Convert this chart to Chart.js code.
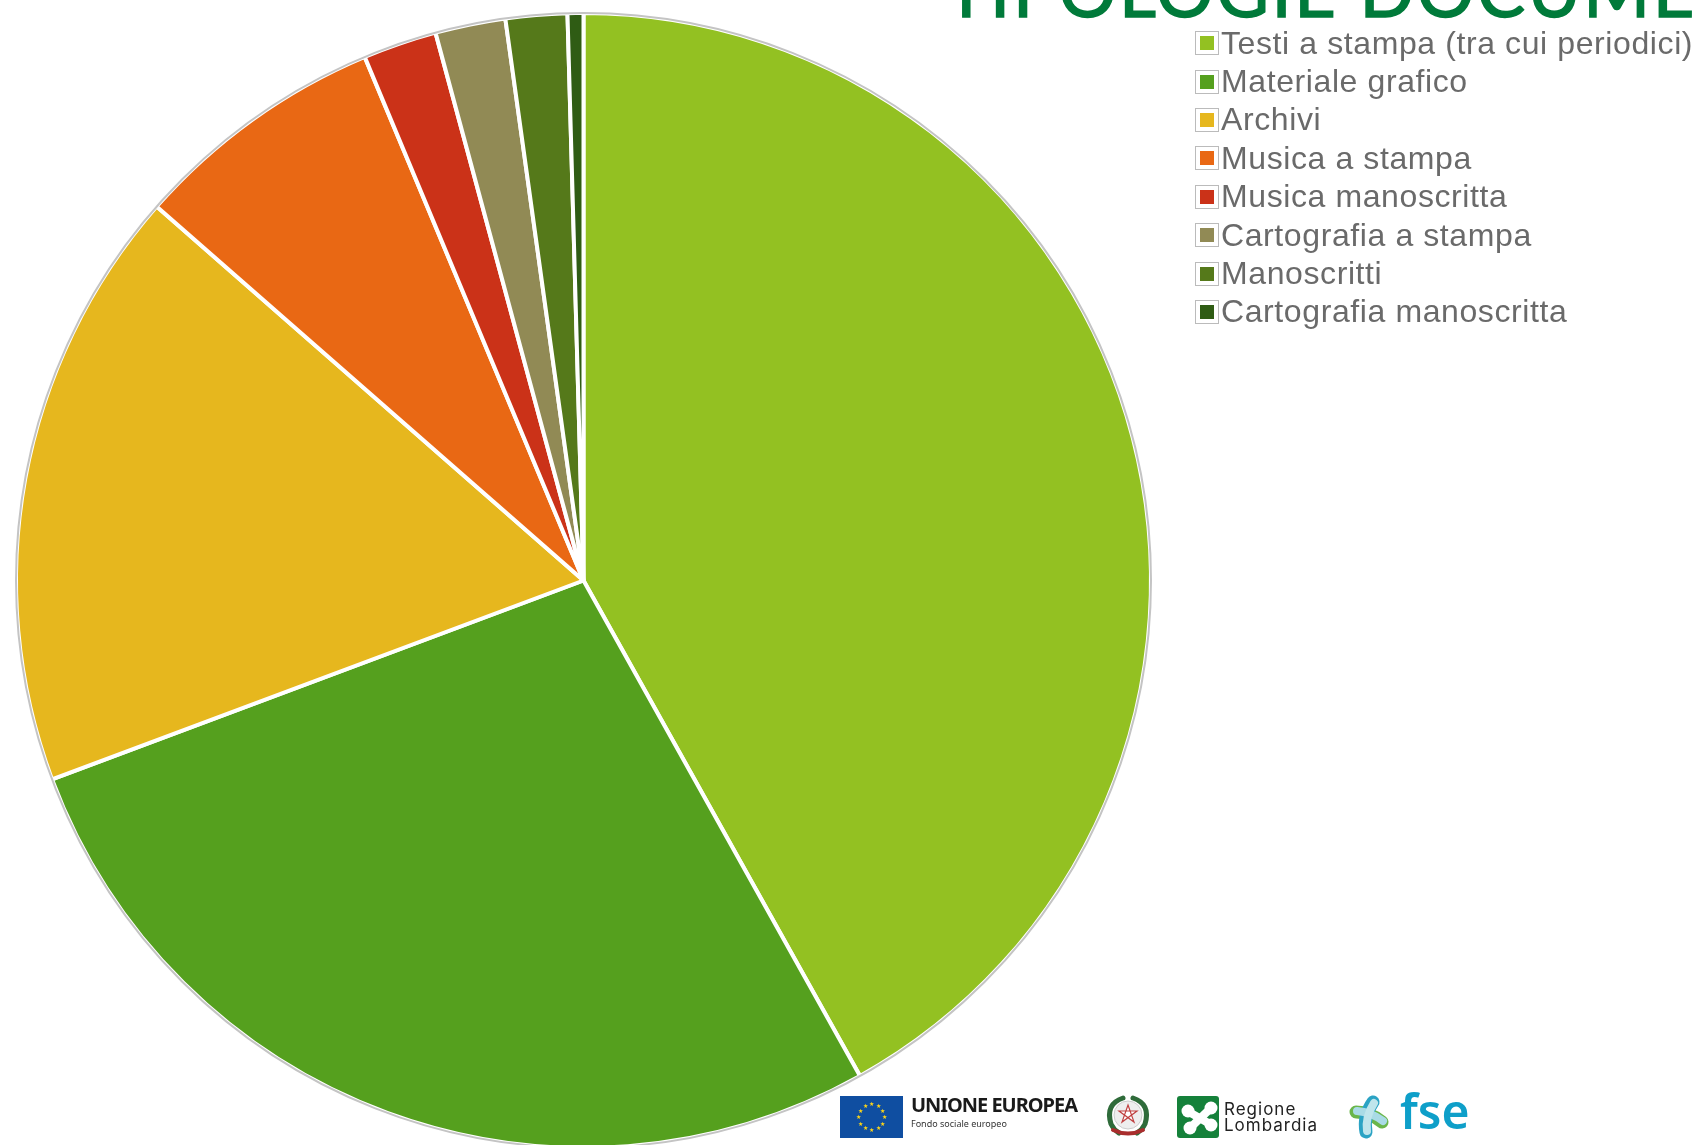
<!DOCTYPE html>
<html lang="it">
<head>
<meta charset="utf-8">
<title>Tipologie documentarie</title>
<script src="https://cdn.jsdelivr.net/npm/chart.js@4"></script>
<style>
  html, body { margin: 0; padding: 0; background: #fff; overflow: hidden; }
  #stage { position: relative; width: 1703px; height: 1145px; overflow: hidden; }
  #pie { position: absolute; left: 0; top: 0; }
  #title {
    position: absolute; left: 945px; top: -47px; white-space: nowrap;
    font: 400 72px/72px "Lato", sans-serif; color: #007a3a; letter-spacing: 2.6px;
    -webkit-text-stroke: 1.5px #007a3a;
  }
  #legend { position: absolute; left: 1195px; top: 24px; filter: blur(0.6px); }
  .row { display: flex; align-items: center; height: 38.4px; font: 32px "Liberation Sans", sans-serif; letter-spacing: .6px; color: #6a6a6a; white-space: nowrap; }
  .box { width: 22px; height: 22px; border: 1px solid #bbb; background: #fff; display: flex; align-items: center; justify-content: center; margin-right: 2px; }
  .box i { display: block; width: 14px; height: 14px; }
  #logos { position: absolute; left: 0; top: 0; }
</style>
</head>
<body>
<div id="stage">
  <canvas id="pie" width="1703" height="1150"></canvas>
  <div id="title">TIPOLOGIE DOCUME</div>
  <div id="legend"></div>
  <svg id="logos" width="1703" height="1145" xmlns="http://www.w3.org/2000/svg">
    <!-- EU flag -->
    <rect x="840" y="1096" width="63" height="42" fill="#0f4ea1"/>
    <g id="stars" fill="#ffd617" font-size="6" text-anchor="middle"></g>
    <text x="911" y="1112" font-family="Noto Sans" font-weight="700" font-size="20" fill="#1a1a1a" textLength="167">UNIONE EUROPEA</text>
    <text x="911" y="1127" font-family="Noto Sans" font-size="9" fill="#333">Fondo sociale europeo</text>
    <!-- emblem -->
    <circle cx="1128" cy="1115" r="14" fill="#eee" stroke="#ccc"/>
    <path d="M1128 1105 l6 17 -15 -11 h18 l-15 11 z" fill="#fff" stroke="#c04040" stroke-width="1.2"/>
    <g fill="none" stroke-linecap="round">
      <path d="M1123 1098 q-18 6 -12 26 q3 6 8 9" stroke="#2f6b3a" stroke-width="5"/>
      <path d="M1133 1098 q18 6 12 26 q-3 6 -8 9" stroke="#2f6b3a" stroke-width="5"/>
      <path d="M1113 1130 q15 7 30 0" stroke="#a92d2d" stroke-width="4"/>
    </g>
    <!-- Regione Lombardia -->
    <rect x="1177" y="1096" width="42" height="42" rx="3" fill="#15813a"/>
    <g stroke="#fff" stroke-width="8" stroke-linecap="round">
      <line x1="1189" y1="1112" x2="1210" y2="1124"/>
      <line x1="1210" y1="1109" x2="1191" y2="1127"/>
    </g>
    <g fill="#fff">
      <circle cx="1188" cy="1111" r="6.5"/><circle cx="1211" cy="1108" r="6.5"/>
      <circle cx="1211" cy="1125" r="6.5"/><circle cx="1190" cy="1128" r="6.5"/>
    </g>
    <text x="1224" y="1115" font-family="Inter" font-size="17" fill="#222" letter-spacing="1">Regione</text>
    <text x="1224" y="1131" font-family="Inter" font-size="17" fill="#222" letter-spacing="1">Lombardia</text>
    <!-- fse -->
    <g fill="none" stroke-linecap="round">
      <path d="M1356 1112 q14 0 26 10" stroke="#6ab64a" stroke-width="13"/>
      <path d="M1373 1102 q-10 14 -7 30" stroke="#2ba3c4" stroke-width="13"/>
      <path d="M1357 1111 q14 1 26 10" stroke="#a9dbe6" stroke-width="8"/>
      <path d="M1374 1103 q-9 14 -7 28" stroke="#bfe5ec" stroke-width="8"/>
    </g>
    <text x="1400" y="1129" font-family="Noto Sans" font-weight="600" font-size="48" fill="#0e9fc9">fse</text>
  </svg>
</div>
<script>
// Slice shares in percent, clockwise from 12 o'clock
const categories = ['Testi a stampa (tra cui periodici)', 'Materiale grafico', 'Archivi', 'Musica a stampa',
  'Musica manoscritta', 'Cartografia a stampa', 'Manoscritti', 'Cartografia manoscritta'];
const shares = [41.9, 27.4, 17.15, 7.25, 2.1, 2.0, 1.75, 0.45];
const sliceColors = ['#93c122', '#55a01e', '#e6b71e', '#e96814', '#cb3218', '#918a55', '#55791a', '#2f5c14'];

// Grey rim round the pie, taken from the arc the library laid out
const rimPlugin = {
  id: 'rim',
  afterDatasetsDraw(chart) {
    const arc = chart.getDatasetMeta(0).data[0];
    const { ctx } = chart;
    ctx.save();
    ctx.beginPath();
    ctx.arc(arc.x, arc.y, arc.outerRadius, 0, Math.PI * 2);
    ctx.strokeStyle = '#c4c4c4';
    ctx.lineWidth = 2;
    ctx.stroke();
    ctx.restore();
  },
};

new Chart(document.getElementById('pie'), {
  type: 'pie',
  data: {
    labels: categories,
    datasets: [{
      data: shares,
      backgroundColor: sliceColors,
      borderColor: '#fff',
      borderWidth: 4,
    }],
  },
  options: {
    responsive: false,
    animation: false,
    layout: { padding: { left: 14, top: 11, right: 550, bottom: 0 } },
    plugins: { legend: { display: false }, tooltip: { enabled: false } },
  },
  plugins: [rimPlugin],
});

// Legend as html, same order as the slices
const legend = document.getElementById('legend');
categories.forEach((name, i) => {
  const row = document.createElement('div');
  row.className = 'row';
  const box = document.createElement('span');
  box.className = 'box';
  const dot = document.createElement('i');
  dot.style.background = sliceColors[i];
  box.appendChild(dot);
  row.appendChild(box);
  row.appendChild(document.createTextNode(name));
  legend.appendChild(row);
});

// EU flag stars
const stars = document.getElementById('stars');
for (let i = 0; i < 12; i++) {
  const a = i * Math.PI / 6;
  const t = document.createElementNS('http://www.w3.org/2000/svg', 'text');
  t.setAttribute('x', 871.5 + 13 * Math.cos(a));
  t.setAttribute('y', 1119 + 13 * Math.sin(a));
  t.textContent = '★';
  stars.appendChild(t);
}
</script>
</body>
</html>
